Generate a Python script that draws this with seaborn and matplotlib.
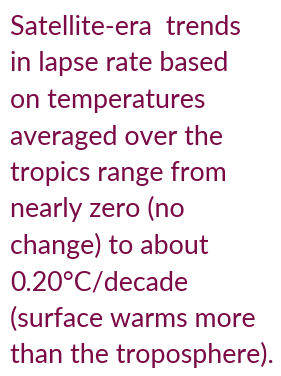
import matplotlib
matplotlib.use("Agg")
import matplotlib.pyplot as plt
import seaborn as sns

# Text lines of the caption box
lines = [
    "Satellite-era  trends",
    "in lapse rate based",
    "on temperatures",
    "averaged over the",
    "tropics range from",
    "nearly zero (no",
    "change) to about",
    "0.20°C/decade",
    "(surface warms more",
    "than the troposphere).",
]
text_color = "#7a0a45"

sns.set_theme(style="white")
plt.rcParams["font.family"] = ["Lato", "DejaVu Sans"]

fig = plt.figure(figsize=(2.81, 3.76), dpi=100)
fig.patch.set_facecolor("white")

W, H = 281, 376
first_base = 35   # baseline of first line, px from top
step = 36.5       # line pitch, px
for i, line in enumerate(lines):
    y = first_base + i * step
    fig.text(10 / W, 1 - y / H, line, color=text_color, fontsize=19.3,
             ha="left", va="baseline")

fig.savefig("out.png", dpi=100, facecolor="white")
